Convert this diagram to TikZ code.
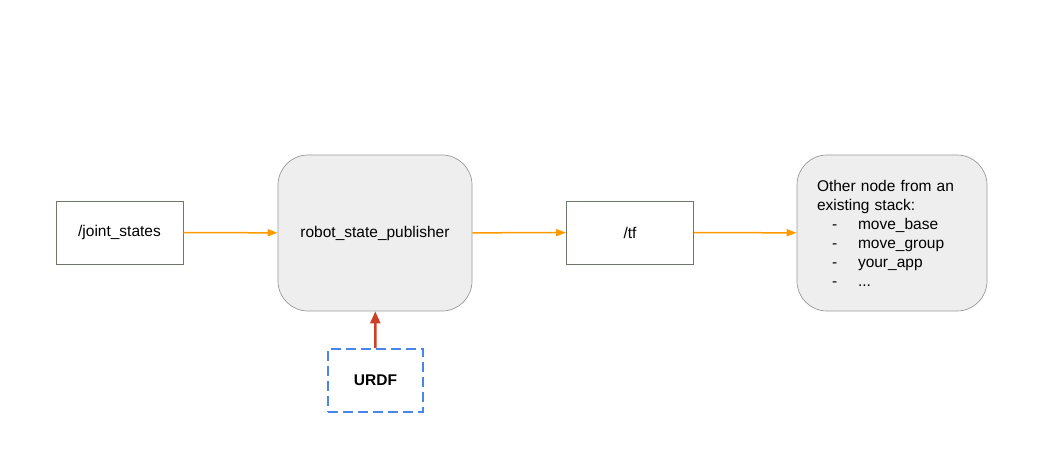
\documentclass[tikz,border=0pt]{standalone}
\usepackage{fontspec}
\setmainfont{Liberation Sans}
\usetikzlibrary{arrows.meta}
\definecolor{flow}{RGB}{255,153,0}
\definecolor{urdfarrow}{RGB}{204,65,37}
\definecolor{urdfblue}{RGB}{74,134,232}
\definecolor{nodefill}{RGB}{238,238,238}
\definecolor{nodeline}{RGB}{153,153,153}
\definecolor{topicline}{RGB}{110,120,105}
\begin{document}
\begin{tikzpicture}[x=1pt,y=-1pt,
  every node/.style={font=\fontsize{15.5}{19}\selectfont, inner sep=0pt},
  topic/.style={draw=topicline, line width=0.7pt, fill=white, minimum width=127pt, minimum height=63pt},
  rosnode/.style={draw=nodeline, line width=0.7pt, fill=nodefill, rounded corners=30pt, minimum width=194pt, minimum height=156pt},
  filebox/.style={draw=urdfblue, line width=1.6pt, dash pattern=on 10pt off 5pt, minimum width=95pt, minimum height=63pt, font=\fontsize{15.5}{19}\selectfont\bfseries},
  flowarrow/.style={draw=flow, line width=1.5pt, -{Triangle[length=10pt,width=7pt]}},
  loadarrow/.style={draw=urdfarrow, line width=2.4pt, -{Triangle[length=12pt,width=10pt]}}
]
\useasboundingbox (0,0) rectangle (1042,470);
\node[topic] (js) at (119.5,232.5) {/joint\_states};
\node[rosnode, minimum width=194pt] (rsp) at (375,233) {robot\_state\_publisher};
\node[topic] (tf) at (630,232.5) {/tf};
\node[rosnode, minimum width=190pt, text width=150pt, align=left] (other) at (892,233) {Other node from an\\existing stack:\\
\hspace*{15pt}\makebox[26pt][l]{-}move\_base\\
\hspace*{15pt}\makebox[26pt][l]{-}move\_group\\
\hspace*{15pt}\makebox[26pt][l]{-}your\_app\\
\hspace*{15pt}\makebox[26pt][l]{-}...};
\node[filebox] (urdf) at (375.5,380.5) {URDF};
\draw[flowarrow] (js) -- (rsp);
\draw[flowarrow] (rsp) -- (tf);
\draw[flowarrow] (tf) -- (other);
\draw[loadarrow] (urdf) -- (rsp);
\end{tikzpicture}
\end{document}
